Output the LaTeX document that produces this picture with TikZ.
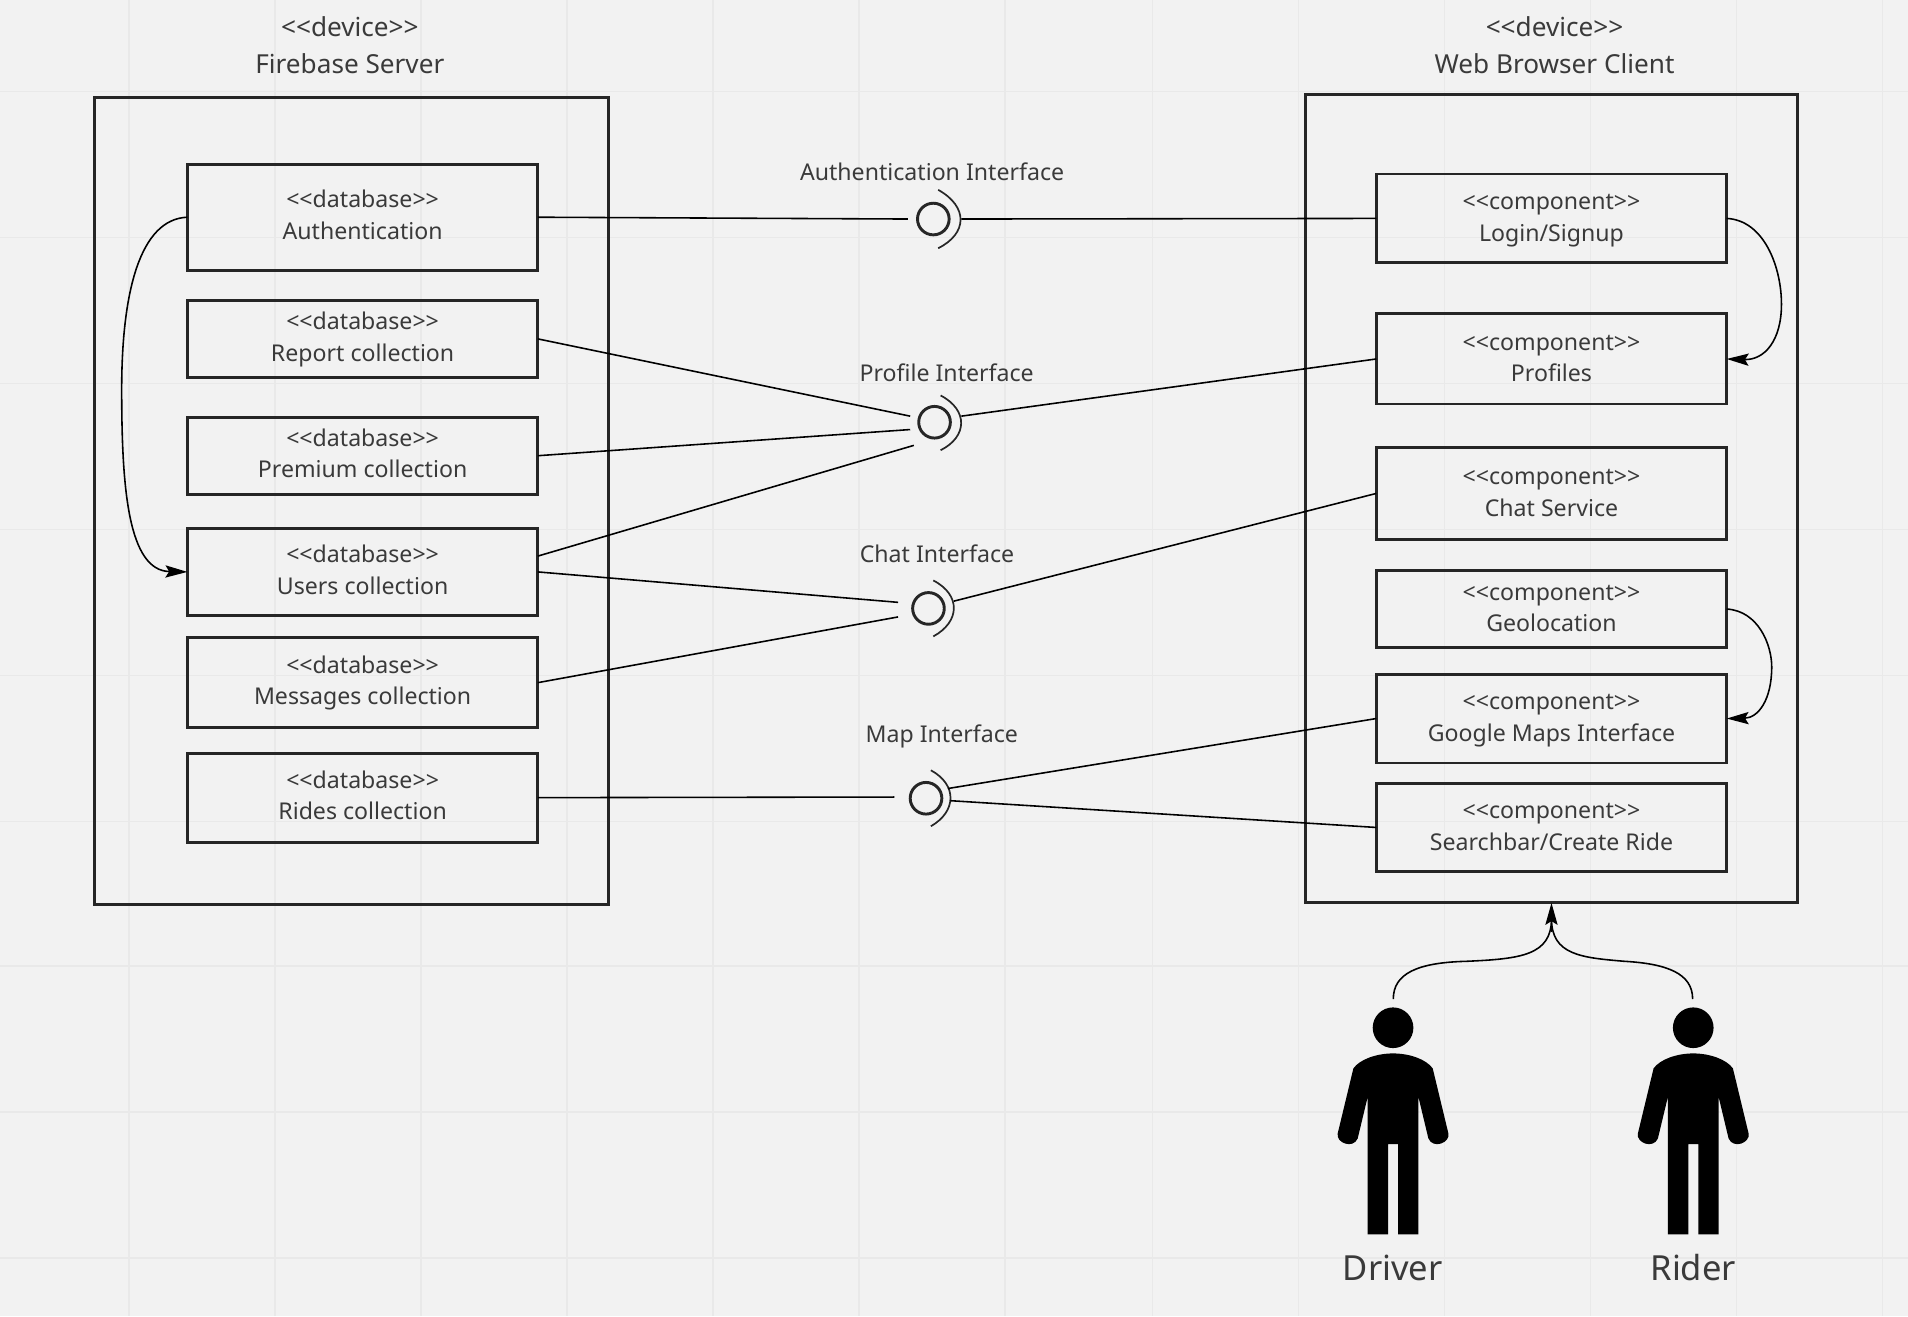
\documentclass[tikz,border=0pt]{standalone}
\usepackage{fontspec}
\setmainfont{Noto Sans}
\usetikzlibrary{arrows.meta}
\definecolor{bgc}{HTML}{F2F2F2}
\definecolor{gridc}{HTML}{E9E9E9}
\definecolor{edgec}{HTML}{262626}
\definecolor{txtc}{HTML}{3A3A3A}
\newcommand\ltlt{<{}<}
\newcommand\gtgt{>{}>}
\tikzset{
  boxnode/.style={draw=edgec,line width=2.4pt,minimum width=288pt,outer sep=0pt,inner sep=0pt,
    text depth=4pt,text=txtc,align=center,font=\fontsize{19}{26}\selectfont},
  compnode/.style={boxnode,text depth=1pt},
  outerbox/.style={draw=edgec,line width=2.4pt,outer sep=0pt},
  title/.style={text=txtc,font=\fontsize{21.5}{22}\selectfont,inner sep=0pt},
  iflabel/.style={text=txtc,font=\fontsize{19}{20}\selectfont,inner sep=0pt},
  actorlabel/.style={text=txtc,font=\fontsize{28.4}{30}\selectfont,inner sep=0pt},
  conn/.style={draw=black,line width=1.3pt},
  flow/.style={draw=black,line width=1.3pt,-{Stealth[length=18pt,width=10pt,inset=3pt]}},
  ifcircle/.style={circle,draw=edgec,line width=2.4pt,minimum size=26pt,inner sep=0pt,outer sep=0pt},
  ifarc/.style={draw=edgec,line width=1.4pt},
  person/.pic={
    \fill[black] (0,0) circle (61);
    \fill[black] (0,77) .. controls (50,77) and (100,95) .. (119,122) -- (166,317)
      .. controls (172,345) and (120,365) .. (106,332) -- (76,207) -- (76,620) -- (15,620)
      -- (15,349) -- (-15,349) -- (-15,620) -- (-76,620) -- (-76,207) -- (-106,332)
      .. controls (-120,365) and (-172,345) .. (-166,317) -- (-119,122)
      .. controls (-100,95) and (-50,77) .. (0,77) -- cycle;
  }
}
\begin{document}
\begin{tikzpicture}[x=1pt,y=-1pt]
\useasboundingbox (0,0) rectangle (1568,1081.5);
\fill[bgc] (0,0) rectangle (1568,1081.5);
\foreach \gx in {106,226,346,466,586,706,826,947,1067,1187,1307,1427,1547}
  \draw[gridc,line width=1.2pt] (\gx,0) -- (\gx,1081.5);
\foreach \gy in {75,195,315,435,555,675,794,914,1034}
  \draw[gridc,line width=1.2pt] (0,\gy) -- (1568,\gy);

% device frames
\node[outerbox,minimum width=422.5pt,minimum height=663pt] (server) at (288.8,411.5) {};
\node[outerbox,minimum width=404pt,minimum height=664pt] (client) at (1275,410) {};
\node[title] (t1) at (287.5,22) {\ltlt device\gtgt};
\node[title] (t2) at (287.5,52) {Firebase Server};
\node[title] (t3) at (1277.5,22) {\ltlt device\gtgt};
\node[title] (t4) at (1277.5,52) {Web Browser Client};

% databases
\node[boxnode,minimum height=87pt] (auth) at (298,178.5) {\ltlt database\gtgt\\Authentication};
\node[boxnode,minimum height=63pt] (report) at (298,278.5) {\ltlt database\gtgt\\Report collection};
\node[boxnode,minimum height=63pt] (premium) at (298,374.5) {\ltlt database\gtgt\\Premium collection};
\node[boxnode,minimum height=72pt] (users) at (298,470) {\ltlt database\gtgt\\Users collection};
\node[boxnode,minimum height=74pt] (messages) at (298,561) {\ltlt database\gtgt\\Messages collection};
\node[boxnode,minimum height=73pt] (rides) at (298,655.5) {\ltlt database\gtgt\\Rides collection};

% components
\node[compnode,minimum height=73pt] (login) at (1275,179.5) {\ltlt component\gtgt\\Login/Signup};
\node[compnode,minimum height=74pt] (profiles) at (1275,295) {\ltlt component\gtgt\\Profiles};
\node[compnode,minimum height=75pt] (chat) at (1275,405.5) {\ltlt component\gtgt\\Chat Service};
\node[compnode,minimum height=63pt] (geo) at (1275,500.5) {\ltlt component\gtgt\\Geolocation};
\node[compnode,minimum height=73pt] (maps) at (1275,590.5) {\ltlt component\gtgt\\Google Maps Interface};
\node[compnode,minimum height=72pt] (search) at (1275,680) {\ltlt component\gtgt\\Searchbar/Create Ride};

% interfaces
\node[ifcircle] (ia) at (767,180) {};
\node[ifcircle] (ip) at (768,347) {};
\node[ifcircle] (ic) at (763,500) {};
\node[ifcircle] (im) at (761,656) {};
\draw[ifarc] (771,156) .. controls (796,170) and (795,192) .. (771,204);
\draw[ifarc] (773,325) .. controls (796,337) and (795,359) .. (773,370);
\draw[ifarc] (767,477) .. controls (790,489) and (789,511) .. (767,523);
\draw[ifarc] (765,633) .. controls (787,645) and (786,667) .. (765,679);
\node[iflabel] (la) at (766,141) {Authentication Interface};
\node[iflabel] (lp) at (778,306) {Profile Interface};
\node[iflabel] (lc) at (770,455) {Chat Interface};
\node[iflabel] (lm) at (774,605) {Map Interface};

\coordinate (aL) at (746,180);
\coordinate (aR) at (790,180);
\coordinate (pL1) at (748,342);
\coordinate (pL2) at (748,353);
\coordinate (pL3) at (751,366);
\coordinate (pR) at (790,342);
\coordinate (cL1) at (738,495);
\coordinate (cL2) at (738,507);
\coordinate (cR) at (784,494);
\coordinate (mL) at (735,655);
\coordinate (mR1) at (779,648);
\coordinate (mR2) at (781,658);

\draw[conn] (auth.east) -- (aL);
\draw[conn] (aR) -- (login.west);
\draw[conn] (report.east) -- (pL1);
\draw[conn] (premium.east) -- (pL2);
\draw[conn] ([yshift=13pt]users.east) -- (pL3);
\draw[conn] (pR) -- (profiles.west);
\draw[conn] (users.east) -- (cL1);
\draw[conn] (messages.east) -- (cL2);
\draw[conn] (cR) -- (chat.west);
\draw[conn] (rides.east) -- (mL);
\draw[conn] (mR1) -- (maps.west);
\draw[conn] (mR2) -- (search.west);

% curved dependencies
\draw[flow] (auth.west) .. controls (115,180) and (100,240) .. (100,320)
  .. controls (100,400) and (105,469) .. (users.west);
\draw[flow] (login.east) .. controls (1450,181) and (1464,220) .. (1464,250)
  .. controls (1464,280) and (1450,296) .. (profiles.east);
\draw[flow] (geo.east) .. controls (1445,502) and (1456,530) .. (1456,548)
  .. controls (1456,575) and (1445,590) .. (maps.east);

% actors
\pic[scale=0.274] (driverfig) at (1144.8,844.6) {person};
\pic[scale=0.274] (riderfig) at (1391.5,844.6) {person};
\node[actorlabel] (driver) at (1144.5,1042) {Driver};
\node[actorlabel] (rider) at (1391.5,1042) {Rider};
\coordinate (dtop) at (1145,821);
\coordinate (rtop) at (1391,821);
\draw[line width=1.3pt] (dtop) .. controls (1145,800) and (1165,791) .. (1205,790)
  .. controls (1250,788) and (1275,785) .. (1275,755);
\draw[line width=1.3pt] (rtop) .. controls (1391,800) and (1370,792) .. (1335,790)
  .. controls (1300,787) and (1275,785) .. (1275,755);
\draw[flow] (1275,766) -- (client.south);
\end{tikzpicture}
\end{document}
